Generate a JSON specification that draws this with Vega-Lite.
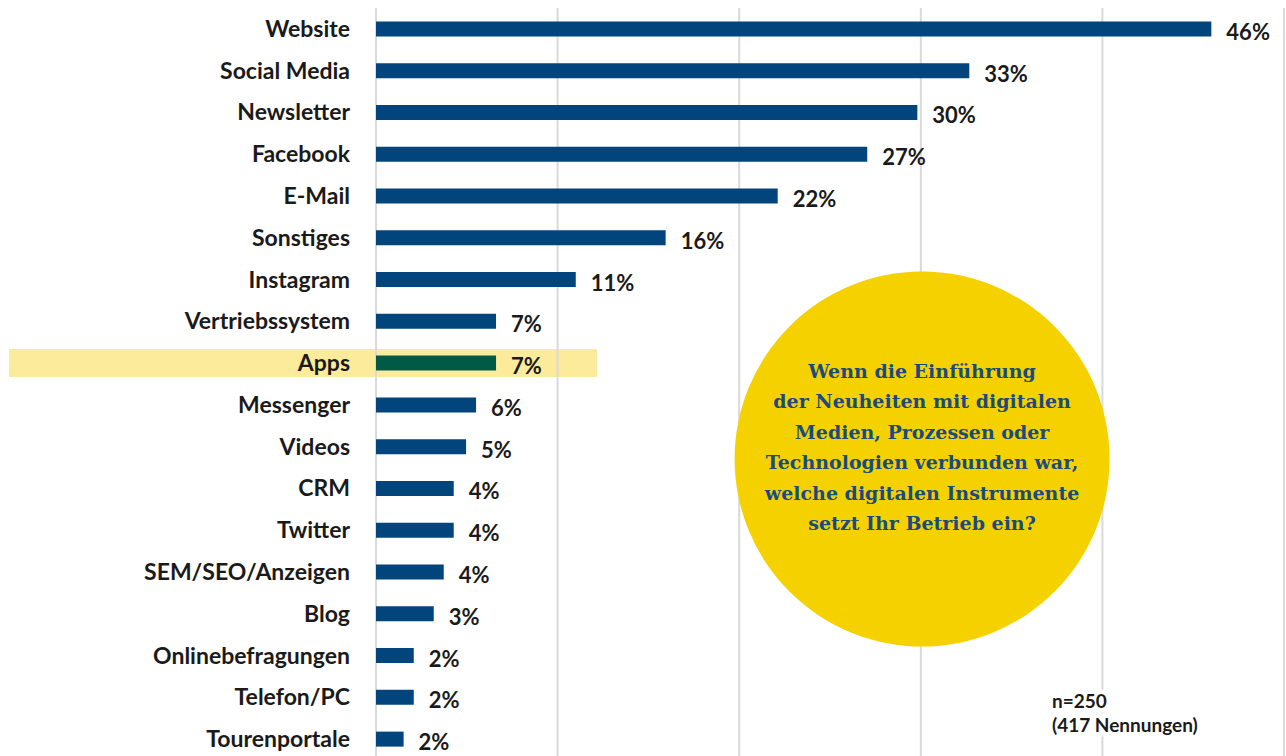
{
  "$schema": "https://vega.github.io/schema/vega-lite/v6.json",
  "width": 1286,
  "height": 752,
  "padding": {"left": 0, "top": 7, "right": 0, "bottom": 0},
  "background": "#ffffff",
  "config": {"view": {"stroke": null}},
  "data": {
    "values": [
      {"cat": "Website", "value": 0.46},
      {"cat": "Social Media", "value": 0.3267},
      {"cat": "Newsletter", "value": 0.2981},
      {"cat": "Facebook", "value": 0.2705},
      {"cat": "E-Mail", "value": 0.2212},
      {"cat": "Sonstiges", "value": 0.1595},
      {"cat": "Instagram", "value": 0.11},
      {"cat": "Vertriebssystem", "value": 0.0661},
      {"cat": "Apps", "value": 0.0661},
      {"cat": "Messenger", "value": 0.0551},
      {"cat": "Videos", "value": 0.0496},
      {"cat": "CRM", "value": 0.0428},
      {"cat": "Twitter", "value": 0.0428},
      {"cat": "SEM/SEO/Anzeigen", "value": 0.0373},
      {"cat": "Blog", "value": 0.0318},
      {"cat": "Onlinebefragungen", "value": 0.0208},
      {"cat": "Telefon/PC", "value": 0.0208},
      {"cat": "Tourenportale", "value": 0.0152}
    ]
  },
  "layer": [
    {
      "layer": [
        {
          "mark": {"type": "bar", "size": 28, "color": "#FCEB9A"},
          "encoding": {
            "y": {"field": "cat", "type": "nominal", "sort": null, "axis": null},
            "x": {"datum": -0.2021, "type": "quantitative", "axis": null, "scale": {"domain": [-0.20705, 0.5011], "nice": false, "zero": false}},
            "x2": {"datum": 0.1217},
            "opacity": {"condition": {"test": "datum.cat === 'Apps'", "value": 1}, "value": 0}
          }
        },
        {
          "data": {"values": [{"g": 0}, {"g": 0.1}, {"g": 0.2}, {"g": 0.3}, {"g": 0.4}, {"g": 0.5}]},
          "mark": {"type": "rule", "color": "#D9D9D9", "strokeWidth": 2},
          "encoding": {
            "x": {"field": "g", "type": "quantitative", "axis": null, "scale": {"domain": [-0.20705, 0.5011], "nice": false, "zero": false}}
          }
        },
        {
          "mark": {"type": "bar", "size": 15},
          "encoding": {
            "y": {"field": "cat", "type": "nominal", "sort": null, "axis": null},
            "x": {"field": "value", "type": "quantitative", "axis": null, "scale": {"domain": [-0.20705, 0.5011], "nice": false, "zero": false}},
            "color": {"condition": {"test": "datum.cat === 'Apps'", "value": "#005A46"}, "value": "#01457C"}
          }
        },
        {
          "mark": {"type": "text", "align": "right", "baseline": "middle", "dx": -26, "dy": 1, "font": "Lato", "fontWeight": "bold", "fontSize": 23, "color": "#1A1A1A"},
          "encoding": {
            "y": {"field": "cat", "type": "nominal", "sort": null, "axis": null},
            "x": {"datum": 0, "type": "quantitative", "axis": null},
            "text": {"field": "cat", "type": "nominal"}
          }
        },
        {
          "mark": {"type": "text", "align": "left", "baseline": "middle", "dx": 15, "dy": 4, "font": "Lato", "fontWeight": "bold", "fontSize": 22, "color": "#1A1A1A"},
          "encoding": {
            "y": {"field": "cat", "type": "nominal", "sort": null, "axis": null},
            "x": {"field": "value", "type": "quantitative", "axis": null},
            "text": {"field": "value", "type": "quantitative", "format": ".0%"}
          }
        }
      ]
    },
    {
      "data": {"values": [{}]},
      "layer": [
        {
          "mark": {"type": "point", "shape": "circle", "filled": true, "size": 140625, "color": "#F6D100", "opacity": 1, "strokeWidth": 0},
          "encoding": {
            "x": {"datum": 0.3007, "type": "quantitative", "axis": null},
            "y": {"datum": 10.795, "type": "quantitative", "axis": null, "scale": {"domain": [0, 18], "reverse": true, "nice": false, "zero": false}}
          }
        },
        {
          "mark": {
            "type": "text",
            "text": ["Wenn die Einführung", "der Neuheiten mit digitalen", "Medien, Prozessen oder", "Technologien verbunden war,", "welche digitalen Instrumente", "setzt Ihr Betrieb ein?"],
            "align": "center", "baseline": "alphabetic", "lineHeight": 30.4,
            "font": "DejaVu Serif", "fontWeight": "bold", "fontSize": 19, "color": "#1B4B7C"
          },
          "encoding": {
            "x": {"datum": 0.3007, "type": "quantitative", "axis": null},
            "y": {"datum": 8.856, "type": "quantitative", "axis": null, "scale": {"domain": [0, 18], "reverse": true, "nice": false, "zero": false}}
          }
        },
        {
          "mark": {
            "type": "text",
            "text": ["n=250", "(417 Nennungen)"],
            "align": "left", "baseline": "alphabetic", "lineHeight": 24.5,
            "font": "Lato", "fontWeight": "bold", "fontSize": 19, "color": "#ffffff", "stroke": "#ffffff", "strokeWidth": 9
          },
          "encoding": {
            "x": {"datum": 0.3722, "type": "quantitative", "axis": null},
            "y": {"datum": 16.75, "type": "quantitative", "axis": null, "scale": {"domain": [0, 18], "reverse": true, "nice": false, "zero": false}}
          }
        },
        {
          "mark": {
            "type": "text",
            "text": ["n=250", "(417 Nennungen)"],
            "align": "left", "baseline": "alphabetic", "lineHeight": 24.5,
            "font": "Lato", "fontWeight": "bold", "fontSize": 19, "color": "#1A1A1A"
          },
          "encoding": {
            "x": {"datum": 0.3722, "type": "quantitative", "axis": null},
            "y": {"datum": 16.75, "type": "quantitative", "axis": null, "scale": {"domain": [0, 18], "reverse": true, "nice": false, "zero": false}}
          }
        }
      ]
    }
  ],
  "resolve": {"scale": {"y": "independent"}}
}
